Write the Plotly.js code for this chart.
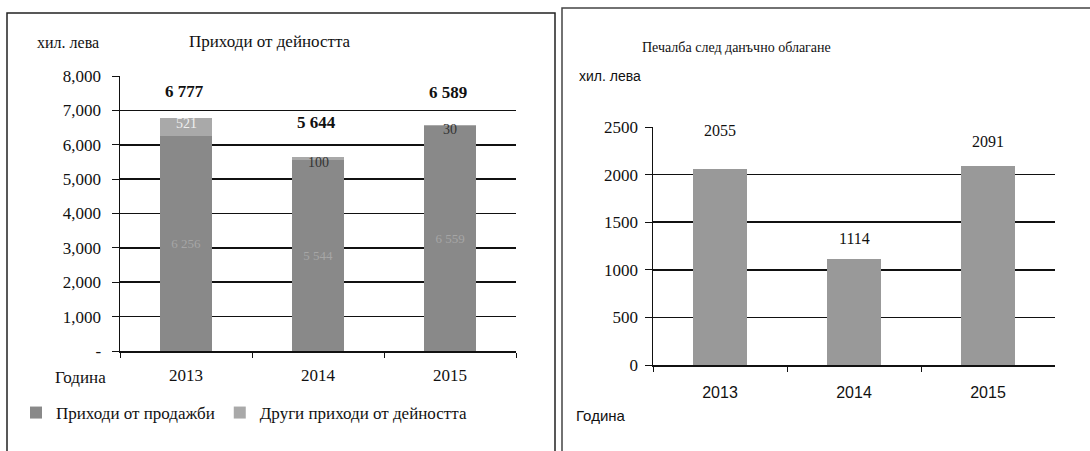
<!DOCTYPE html>
<html><head><meta charset="utf-8">
<script src="https://cdn.plot.ly/plotly-3.0.1.min.js"></script>
<style>html,body{margin:0;padding:0;background:#fff;}#chart{width:1090px;height:451px;}</style>
</head><body><div id="chart"></div>
<script>
// ---- data ----
const years = ['2013', '2014', '2015'];
const salesRevenue = [6256, 5544, 6559];
const otherRevenue = [521, 100, 30];
const totalRevenue = [6777, 5644, 6589];
const profitAfterTax = [2055, 1114, 2091];
const revTickVals = [0, 1000, 2000, 3000, 4000, 5000, 6000, 7000, 8000];
const revTickText = ['-', '1,000', '2,000', '3,000', '4,000', '5,000', '6,000', '7,000', '8,000'];
const profitTickVals = [0, 500, 1000, 1500, 2000, 2500];
const seriesNames = ['Приходи от продажби', 'Други приходи от дейността'];
const leftTitle = 'Приходи от дейността';
const rightTitle = 'Печалба след данъчно облагане';
const unitLabel = 'хил. лева';
const yearLabel = 'Година';

// ---- helpers ----
const W = 1090, H = 451;
const px = x => x / W;
const py = y => 1 - y / H;
const fmt = v => String(v).replace(/\B(?=(\d{3})+(?!\d))/g, ' ');
const SERIF = '"Liberation Serif", "DejaVu Serif", serif';
const SANS = '"Liberation Sans", Arial, sans-serif';

const traces = [
  {type: 'bar', x: years, y: salesRevenue, name: seriesNames[0], xaxis: 'x', yaxis: 'y',
   marker: {color: '#898989'}, width: 0.39,
   text: salesRevenue.map(fmt), textposition: 'inside', insidetextanchor: 'middle',
   textfont: {family: SERIF, size: 13, color: '#a6a6a6'}, textangle: 0, constraintext: 'none',
   hoverinfo: 'skip'},
  {type: 'bar', x: years, y: otherRevenue, name: seriesNames[1], xaxis: 'x', yaxis: 'y',
   marker: {color: '#a9a9a9'}, width: 0.39, hoverinfo: 'skip'},
  {type: 'bar', x: years, y: profitAfterTax, xaxis: 'x2', yaxis: 'y2', showlegend: false,
   marker: {color: '#999999'}, width: 0.4, hoverinfo: 'skip'}
];

const annotations = [];
annotations.push({xref: 'paper', yref: 'paper', x: px(270), y: py(41), text: leftTitle, showarrow: false,
  font: {family: SERIF, size: 17, color: '#111'}, xanchor: 'center', yanchor: 'middle'});
annotations.push({xref: 'paper', yref: 'paper', x: px(68), y: py(42), text: unitLabel, showarrow: false,
  font: {family: SERIF, size: 16, color: '#111'}, xanchor: 'center', yanchor: 'middle'});
annotations.push({xref: 'paper', yref: 'paper', x: px(80), y: py(377), text: yearLabel, showarrow: false,
  font: {family: SERIF, size: 17, color: '#111'}, xanchor: 'center', yanchor: 'middle'});
annotations.push({xref: 'paper', yref: 'paper', x: px(736), y: py(47), text: rightTitle, showarrow: false,
  font: {family: SERIF, size: 14, color: '#111'}, xanchor: 'center', yanchor: 'middle'});
annotations.push({xref: 'paper', yref: 'paper', x: px(610), y: py(76), text: unitLabel, showarrow: false,
  font: {family: SANS, size: 14, color: '#111'}, xanchor: 'center', yanchor: 'middle'});
annotations.push({xref: 'paper', yref: 'paper', x: px(601), y: py(415), text: yearLabel, showarrow: false,
  font: {family: SANS, size: 15, color: '#111'}, xanchor: 'center', yanchor: 'middle'});

// total labels and "other" segment labels (left chart), placed at category index
const totalShift = [15, 23, 20];
const otherLabelColor = ['#efefef', '#333', '#333'];
years.forEach((yr, i) => {
  annotations.push({xref: 'x', yref: 'y', x: i, y: totalRevenue[i], text: '<b>' + fmt(totalRevenue[i]) + '</b>',
    showarrow: false, yanchor: 'bottom', yshift: totalShift[i], xshift: -2,
    font: {family: SERIF, size: 17, color: '#111'}});
  annotations.push({xref: 'x', yref: 'y', x: i, y: totalRevenue[i], text: fmt(otherRevenue[i]),
    showarrow: false, yanchor: 'top', yshift: 4,
    font: {family: SERIF, size: 14, color: otherLabelColor[i]}});
});
// profit labels (right chart)
const profitShift = [28, 10, 14];
years.forEach((yr, i) => {
  annotations.push({xref: 'x2', yref: 'y2', x: i, y: profitAfterTax[i], text: String(profitAfterTax[i]),
    showarrow: false, yanchor: 'bottom', yshift: profitShift[i],
    font: {family: SERIF, size: 16, color: '#111'}});
});

const shapes = [
  {type: 'rect', xref: 'paper', yref: 'paper', x0: px(7), x1: px(555), y0: py(460), y1: py(13),
   line: {color: '#222', width: 1.5}, fillcolor: 'rgba(0,0,0,0)'},
  {type: 'rect', xref: 'paper', yref: 'paper', x0: px(562), x1: px(1100), y0: py(460), y1: py(8),
   line: {color: '#444', width: 1.5}, fillcolor: 'rgba(0,0,0,0)'}
];

const axisCommon = {showline: true, linecolor: '#111', linewidth: 1.5, fixedrange: true};

const layout = {
  width: W, height: H,
  margin: {l: 0, r: 0, t: 0, b: 0},
  paper_bgcolor: '#ffffff', plot_bgcolor: '#ffffff',
  barmode: 'stack',
  showlegend: true,
  legend: {orientation: 'h', x: px(16), y: py(413), xanchor: 'left', yanchor: 'middle',
    font: {family: SERIF, size: 17, color: '#111'}, itemwidth: 30, traceorder: 'normal',
    bgcolor: 'rgba(0,0,0,0)'},
  xaxis: Object.assign({}, axisCommon, {domain: [px(120), px(516)], anchor: 'y', type: 'category',
    range: [-0.5, 2.5], autorange: false,
    ticks: 'outside', ticklen: 5, tickson: 'boundaries', tickcolor: '#111', tickangle: 0,
    ticklabelstandoff: 8,
    tickfont: {family: SERIF, size: 17, color: '#111'}, showgrid: false}),
  yaxis: Object.assign({}, axisCommon, {domain: [py(351), py(76)], anchor: 'x', range: [0, 8000], autorange: false,
    tickvals: revTickVals, ticktext: revTickText, ticks: 'outside', ticklen: 7, tickcolor: '#111',
    ticklabelstandoff: 7,
    showgrid: true, gridcolor: '#111', gridwidth: 1.7, zeroline: false,
    tickfont: {family: SERIF, size: 17, color: '#111'}}),
  xaxis2: Object.assign({}, axisCommon, {domain: [px(653), px(1055)], anchor: 'y2', type: 'category',
    range: [-0.5, 2.5], autorange: false,
    ticks: 'outside', ticklen: 5, tickson: 'boundaries', tickcolor: '#111', tickangle: 0,
    ticklabelstandoff: 12,
    tickfont: {family: SANS, size: 16, color: '#111'}, showgrid: false}),
  yaxis2: Object.assign({}, axisCommon, {domain: [py(365), py(127)], anchor: 'x2', range: [0, 2500], autorange: false,
    tickvals: profitTickVals, ticks: 'outside', ticklen: 7, tickcolor: '#111',
    ticklabelstandoff: 3,
    showgrid: true, gridcolor: '#111', gridwidth: 1.7, zeroline: false,
    tickfont: {family: SERIF, size: 17, color: '#111'}}),
  annotations: annotations,
  shapes: shapes
};

Plotly.newPlot('chart', traces, layout, {displayModeBar: false, staticPlot: true});
</script>
</body></html>
